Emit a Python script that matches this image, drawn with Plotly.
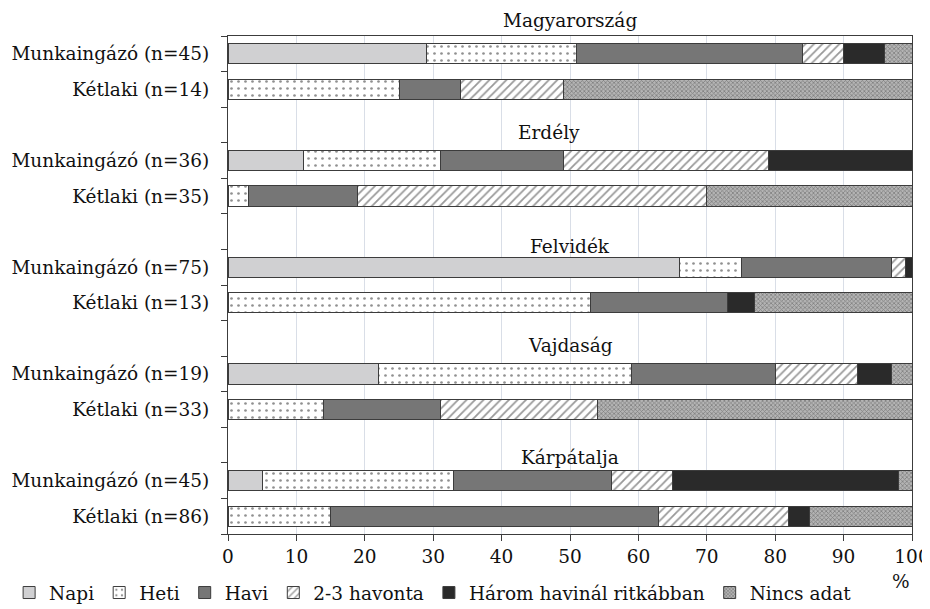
import plotly.graph_objects as go

# Régiók és sorok
groups = ["Magyarország", "Erdély", "Felvidék", "Vajdaság", "Kárpátalja"]
row_labels = [
    "Munkaingázó (n=45)", "Kétlaki (n=14)",
    "Munkaingázó (n=36)", "Kétlaki (n=35)",
    "Munkaingázó (n=75)", "Kétlaki (n=13)",
    "Munkaingázó (n=19)", "Kétlaki (n=33)",
    "Munkaingázó (n=45)", "Kétlaki (n=86)",
]

# Százalékos megoszlás (a fenti sorrendben)
napi = [29, 0, 11, 0, 66, 0, 22, 0, 5, 0]
heti = [22, 25, 20, 3, 9, 53, 37, 14, 28, 15]
havi = [33, 9, 18, 16, 22, 20, 21, 17, 23, 48]
havonta_2_3 = [6, 15, 30, 51, 2, 0, 12, 23, 9, 19]
ritkabban = [6, 0, 21, 0, 1, 4, 5, 0, 33, 3]
nincs_adat = [4, 51, 0, 30, 0, 23, 3, 46, 2, 15]

series_names = ["Napi", "Heti", "Havi", "2-3 havonta", "Három havinál ritkábban", "Nincs adat"]
series_values = [napi, heti, havi, havonta_2_3, ritkabban, nincs_adat]

FONT = "DejaVu Serif"
FS = 18.5
LINE = "#3c3c3c"

styles = [
    dict(color="#d0d0d2"),
    dict(color="white", pattern=dict(shape=".", fgcolor="#222", bgcolor="white", size=7, solidity=0.12)),
    dict(color="#767676"),
    dict(color="white", pattern=dict(shape="/", fgcolor="#333", bgcolor="white", size=6, solidity=0.3)),
    dict(color="#2a2a2a"),
    dict(color="#8a8a8a", pattern=dict(shape="x", fgcolor="#4a4a4a", bgcolor="#b4b4b4", size=3, solidity=0.45)),
]

# sorok helye: minden régió után egy üres sáv
y_pos = [g * 3 + k for g in range(len(groups)) for k in range(2)]

fig = go.Figure()
for name, vals, st in zip(series_names, series_values, styles):
    fig.add_trace(go.Bar(
        y=y_pos, x=vals, name=name, orientation="h",
        marker=dict(**st, line=dict(color=LINE, width=1)),
        hoverinfo="x+name",
    ))

n_bands = len(groups) * 3 - 1
yrange = [n_bands - 0.5, -0.5]

# sávhatárok jelölése a bal tengelyen
fig.add_trace(go.Scatter(x=[None], y=[None], yaxis="y2", showlegend=False))

# régiócímek (papír-koordinátában, hogy a legfelső is látsszon)
PLOT_H = 498
title_px = [20, 133, 247, 345, 457]
title_x = [50, 47, 50, 50, 50]
for g, py, tx in zip(groups, title_px, title_x):
    fig.add_annotation(x=tx, y=1 - (py - 36) / PLOT_H, xref="x", yref="paper", text=g,
                       showarrow=False, yanchor="middle",
                       font=dict(family=FONT, size=FS, color="#111"))

fig.add_annotation(x=1.0, y=-(581 - 534) / PLOT_H, xref="paper", yref="paper", text="%",
                   showarrow=False, yanchor="middle",
                   font=dict(family=FONT, size=FS, color="#111"))

# az oldal 8 px-es margóját levonva
fig.update_layout(
    width=922, height=601,
    margin=dict(l=220, r=18, t=28, b=75, autoexpand=False),
    barmode="stack", bargap=0.43,
    plot_bgcolor="white", paper_bgcolor="white",
    font=dict(family=FONT, size=FS, color="#111"),
    xaxis=dict(range=[0, 100], dtick=10, showgrid=True, gridcolor="#d9dee7", gridwidth=1,
               showline=True, linecolor=LINE, linewidth=1, mirror=True,
               ticks="outside", ticklen=6, tickcolor=LINE, zeroline=False,
               tickfont=dict(family=FONT, size=FS)),
    yaxis=dict(range=yrange, tickmode="array", tickvals=y_pos, ticktext=row_labels,
               showline=True, linecolor=LINE, linewidth=1, mirror=True,
               ticks="", showgrid=False, zeroline=False, ticklabelstandoff=14,
               tickfont=dict(family=FONT, size=FS)),
    yaxis2=dict(range=yrange, overlaying="y", side="left", anchor="x",
                tickmode="array", tickvals=[i - 0.5 for i in range(n_bands + 1)],
                ticks="outside", ticklen=6, tickcolor=LINE, showticklabels=False,
                showgrid=False, zeroline=False, showline=False),
    legend=dict(orientation="h", x=-0.32, xanchor="left", y=-(593 - 534) / PLOT_H,
                yanchor="middle", font=dict(family=FONT, size=FS), itemwidth=30,
                traceorder="normal", bgcolor="rgba(0,0,0,0)"),
)

fig.write_html("out.html")
